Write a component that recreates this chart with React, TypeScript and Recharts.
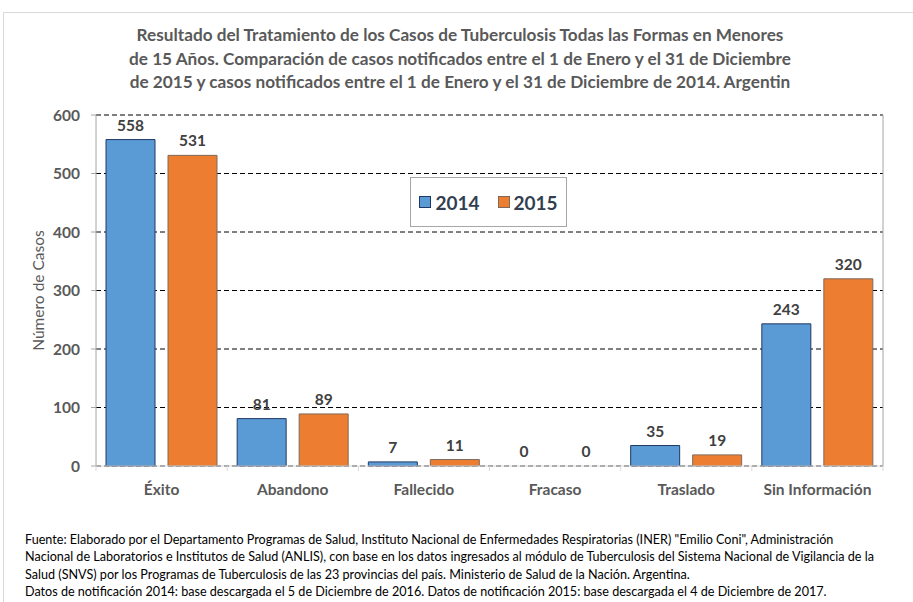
import { Bar, BarChart, CartesianGrid, Cell, Label, LabelList, Legend, XAxis, YAxis } from 'recharts'

const categories = ['Éxito', 'Abandono', 'Fallecido', 'Fracaso', 'Traslado', 'Sin Información']
const casos2014 = [558, 81, 7, 0, 35, 243]
const casos2015 = [531, 89, 11, 0, 19, 320]
const yTicks = [0, 100, 200, 300, 400, 500, 600]
const boundaryTicks = [0, 1, 2, 3, 4, 5, 6]

const titleLines = [
  'Resultado del Tratamiento de los Casos de Tuberculosis Todas las Formas en Menores',
  'de 15 Años. Comparación de casos notificados entre el 1 de Enero y el 31 de Diciembre',
  'de 2015 y casos notificados entre el 1 de Enero y el 31 de Diciembre de 2014. Argentin',
]

const footLines = [
  'Fuente: Elaborado por el Departamento Programas de Salud, Instituto Nacional de Enfermedades Respiratorias (INER) "Emilio Coni", Administración',
  'Nacional de Laboratorios e Institutos de Salud (ANLIS), con base en los datos ingresados al módulo de Tuberculosis del Sistema Nacional de Vigilancia de la',
  'Salud (SNVS) por los Programas de Tuberculosis de las 23 provincias del país. Ministerio de Salud de la Nación. Argentina.',
  'Datos de notificación 2014: base descargada el 5 de Diciembre de 2016. Datos de notificación 2015: base descargada el 4 de Diciembre de 2017.',
]

const data = categories.map((name, i) => ({
  name,
  idx: i + 0.5,
  y2014: casos2014[i],
  y2015: casos2015[i],
}))

const FONT = 'Lato, "Open Sans", sans-serif'
const BLUE = '#5B9BD5'
const ORANGE = '#ED7D31'

const series = [
  { key: 'y2014', label: '2014', fill: BLUE, stroke: '#1F3864' },
  { key: 'y2015', label: '2015', fill: ORANGE, stroke: '#7F6A5A' },
]

function LegendBox() {
  return (
    <div
      style={{
        width: 157,
        height: 50,
        border: '1px solid #a6a6a6',
        background: '#fff',
        display: 'flex',
        alignItems: 'center',
        justifyContent: 'center',
        gap: 18,
        boxSizing: 'border-box',
      }}
    >
      {series.map((it) => (
        <div key={it.label} style={{ display: 'flex', alignItems: 'center', gap: 4 }}>
          <span
            style={{
              width: 10,
              height: 10,
              background: it.fill,
              border: `1px solid ${it.stroke}`,
              display: 'inline-block',
            }}
          />
          <span style={{ fontFamily: FONT, fontWeight: 700, fontSize: 19, color: '#333F50' }}>
            {it.label}
          </span>
        </div>
      ))}
    </div>
  )
}

const zeroSize = (v: unknown) => (v === 0 ? 0.5 : 0)

export default function App() {
  return (
    <div
      style={{
        position: 'absolute',
        left: 0,
        top: 0,
        width: 913,
        height: 602,
        background: '#fff',
        overflow: 'hidden',
        fontFamily: FONT,
      }}
    >
      <div style={{ position: 'absolute', left: 3, top: 12, width: 910, height: 1, background: '#d9d9d9' }} />
      <div style={{ position: 'absolute', left: 3, top: 12, width: 1, height: 590, background: '#d9d9d9' }} />
      <div
        style={{
          position: 'absolute',
          left: 0,
          top: 23,
          width: 920,
          textAlign: 'center',
          fontWeight: 700,
          fontSize: 17.2,
          lineHeight: '23.5px',
          color: '#595959',
          whiteSpace: 'nowrap',
        }}
      >
        {titleLines.map((l) => (
          <div key={l}>{l}</div>
        ))}
      </div>

      <div style={{ position: 'absolute', left: 0, top: 0 }}>
        <BarChart
          width={913}
          height={602}
          data={data}
          margin={{ top: 115, right: 29, bottom: 100, left: 20 }}
          barCategoryGap={10}
          barGap={13}
        >
          <CartesianGrid
            yAxisId="left"
            xAxisId="cat"
            horizontal
            vertical={false}
            stroke="#000"
            strokeDasharray="5 3"
            strokeWidth={1}
          />
          <YAxis
            yAxisId="left"
            domain={[0, 600]}
            ticks={yTicks}
            width={76}
            tickSize={5}
            tickMargin={11}
            axisLine={{ stroke: '#a6a6a6' }}
            tickLine={{ stroke: '#a6a6a6' }}
            tick={{ fontFamily: FONT, fontWeight: 700, fontSize: 15.5, fill: '#595959' }}
          >
            <Label
              value="Número de Casos"
              angle={-90}
              position="insideLeft"
              offset={18}
              style={{ fontFamily: FONT, fontSize: 15.5, fill: '#595959', textAnchor: 'middle' }}
            />
          </YAxis>
          <YAxis
            yAxisId="right"
            orientation="right"
            domain={[0, 600]}
            ticks={yTicks}
            width={1}
            tick={false}
            tickLine={false}
            axisLine={{ stroke: '#a6a6a6' }}
          />
          <XAxis
            xAxisId="bounds"
            type="number"
            dataKey="idx"
            domain={[0, 6]}
            ticks={boundaryTicks}
            height={6}
            tickSize={5}
            tickFormatter={() => ''}
            axisLine={{ stroke: '#d9d9d9' }}
            tickLine={{ stroke: '#d9d9d9' }}
          />
          <XAxis
            xAxisId="cat"
            dataKey="name"
            height={30}
            axisLine={false}
            tickLine={false}
            tickMargin={6}
            tick={{ fontFamily: FONT, fontWeight: 700, fontSize: 15.5, fill: '#595959' }}
          />
          <Legend
            verticalAlign="middle"
            align="center"
            content={() => <LegendBox />}
            wrapperStyle={{ position: 'absolute', left: 410, top: 177, width: 157, height: 50 }}
          />
          {series.map((s) => (
            <Bar
              key={s.key}
              yAxisId="left"
              xAxisId="cat"
              dataKey={s.key}
              name={s.label}
              fill={s.fill}
              stroke={s.stroke}
              strokeWidth={1}
              minPointSize={zeroSize}
              isAnimationActive={false}
            >
              {data.map((d) => (
                <Cell
                  key={d.name}
                  fill={d[s.key as 'y2014'] === 0 ? 'none' : s.fill}
                  stroke={d[s.key as 'y2014'] === 0 ? 'none' : s.stroke}
                />
              ))}
              <LabelList
                dataKey={s.key}
                position="top"
                offset={9}
                style={{ fontFamily: FONT, fontWeight: 700, fontSize: 15.5, fill: '#404040' }}
              />
            </Bar>
          ))}
        </BarChart>
      </div>

      <div
        style={{
          position: 'absolute',
          left: 25,
          top: 531,
          fontSize: 12.6,
          lineHeight: '17.3px',
          color: '#000',
          whiteSpace: 'nowrap',
        }}
      >
        {footLines.map((l) => (
          <div key={l}>{l}</div>
        ))}
      </div>
    </div>
  )
}
